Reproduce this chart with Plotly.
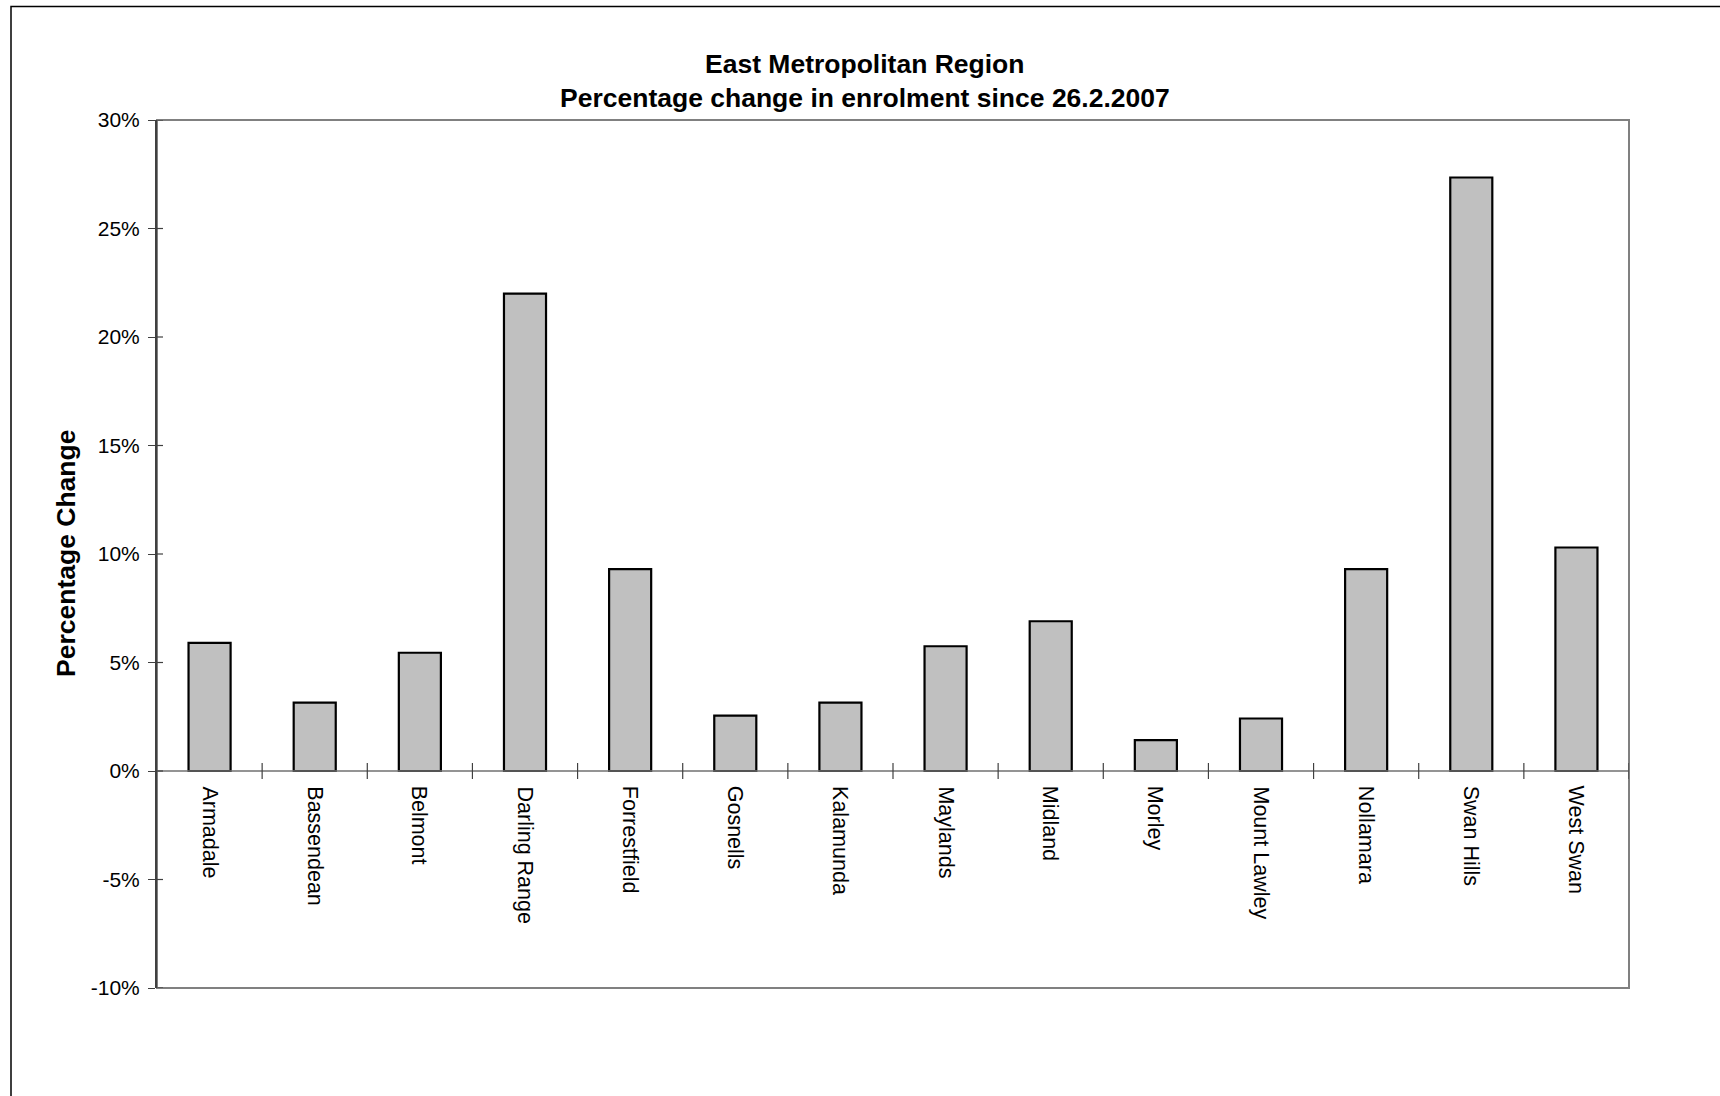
import plotly.graph_objects as go

categories = ["Armadale", "Bassendean", "Belmont", "Darling Range", "Forrestfield",
              "Gosnells", "Kalamunda", "Maylands", "Midland", "Morley",
              "Mount Lawley", "Nollamara", "Swan Hills", "West Swan"]
values = [5.9, 3.15, 5.45, 22.0, 9.3, 2.55, 3.15, 5.75, 6.9, 1.42, 2.42, 9.3, 27.35, 10.3]
y_ticks = [-10, -5, 0, 5, 10, 15, 20, 25, 30]
y_tick_labels = [f"{v}%" for v in y_ticks]

FONT = "Liberation Sans, Arial, sans-serif"
W, H = 1720, 1096
L, R, T, B = 157, 91, 120, 108
pw, ph = W - L - R, H - T - B

def px_x(p):
    return (p - L) / pw

def px_y(p):
    return (H - B - p) / ph

x_idx = list(range(len(categories)))

fig = go.Figure()
fig.add_trace(go.Bar(
    x=x_idx, y=values, width=0.4,
    marker=dict(color="#C0C0C0", line=dict(color="black", width=2.2)),
    hoverinfo="skip", showlegend=False,
))

shapes = []
shapes.append(dict(type="rect", xref="paper", yref="paper", x0=0, x1=1, y0=0, y1=1,
                   line=dict(color="#808080", width=2), layer="below"))
shapes.append(dict(type="line", xref="paper", yref="y", x0=0, x1=1, y0=0, y1=0,
                   line=dict(color="#707070", width=1.5)))
for i in range(1, len(categories) + 1):
    shapes.append(dict(type="line", xref="x", yref="y", x0=i - 0.5, x1=i - 0.5,
                       y0=-0.37, y1=0.37, line=dict(color="#404040", width=1.2)))
for v in y_ticks:
    shapes.append(dict(type="line", xref="paper", yref="y", x0=0, x1=6 / pw,
                       y0=v, y1=v, line=dict(color="#404040", width=1.2)))
shapes.append(dict(type="rect", xref="paper", yref="paper",
                   x0=px_x(11), x1=px_x(W + 20), y0=px_y(H + 20), y1=px_y(6.5),
                   line=dict(color="black", width=1.5)))

annotations = [
    dict(text="<b>East Metropolitan Region</b>", xref="paper", yref="paper",
         x=px_x(865), y=px_y(63.5), showarrow=False, xanchor="center", yanchor="middle",
         font=dict(family=FONT, size=26.5, color="black")),
    dict(text="<b>Percentage change in enrolment since 26.2.2007</b>", xref="paper", yref="paper",
         x=px_x(865), y=px_y(97.5), showarrow=False, xanchor="center", yanchor="middle",
         font=dict(family=FONT, size=26.5, color="black")),
    dict(text="<b>Percentage Change</b>", xref="paper", yref="paper",
         x=px_x(66), y=px_y(554), showarrow=False, textangle=-90,
         xanchor="center", yanchor="middle",
         font=dict(family=FONT, size=26.5, color="black")),
]
for i, c in enumerate(categories):
    annotations.append(dict(text=c, x=i, y=0, xref="x", yref="y", showarrow=False,
                            textangle=90, xanchor="center", yanchor="top", yshift=-13,
                            font=dict(family=FONT, size=21.5, color="black")))

fig.update_layout(
    width=W, height=H,
    margin=dict(l=L, r=R, t=T, b=B),
    paper_bgcolor="white", plot_bgcolor="white",
    shapes=shapes, annotations=annotations,
    bargap=0.6,
    xaxis=dict(range=[-0.5, len(categories) - 0.5], showticklabels=False, showgrid=False,
               zeroline=False, ticks="", showline=False, fixedrange=True),
    yaxis=dict(range=[-10, 30], tickvals=y_ticks, ticktext=y_tick_labels,
               showgrid=False, zeroline=False, ticks="outside", ticklen=7,
               tickcolor="#404040", tickwidth=1.2,
               showline=True, linecolor="#404040", linewidth=2,
               tickfont=dict(family=FONT, size=21, color="black"),
               ticklabelstandoff=4, fixedrange=True),
    font=dict(family=FONT),
)

fig.write_html("out.html",
               config={"displayModeBar": False},
               post_script="document.body.style.margin='0';document.body.style.overflow='hidden';")
